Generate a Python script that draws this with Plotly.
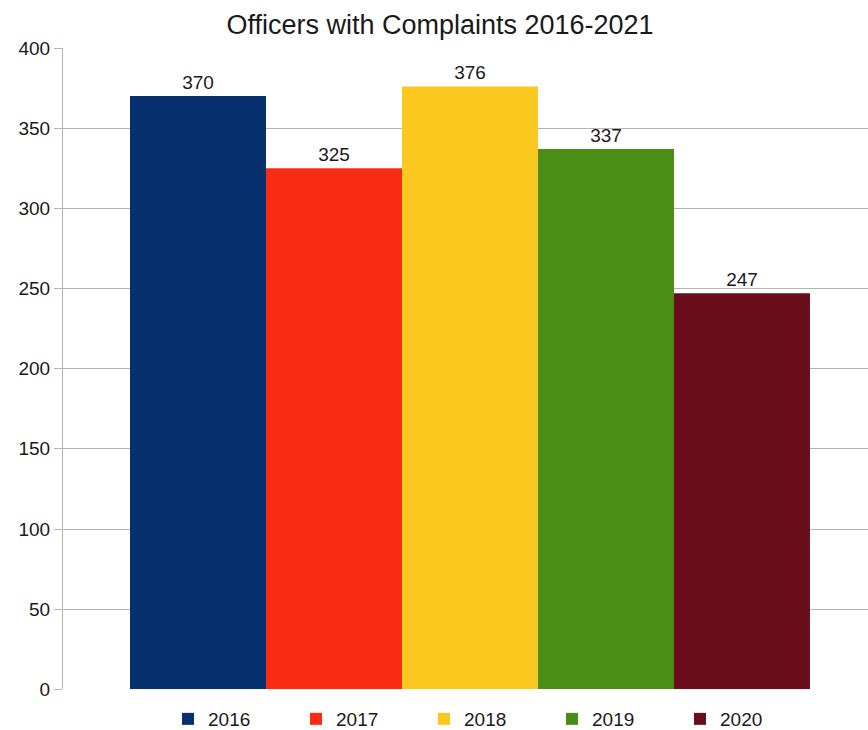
import plotly.graph_objects as go

years = ["2016", "2017", "2018", "2019", "2020"]
values = [370, 325, 376, 337, 247]
colors = ["#06316e", "#f92c13", "#fbc820", "#4a8e18", "#690e1a"]
y_ticks = [0, 50, 100, 150, 200, 250, 300, 350, 400]

FONT = "Liberation Sans, Arial, sans-serif"

fig = go.Figure()
for i, (yr, v, c) in enumerate(zip(years, values, colors)):
    fig.add_trace(go.Bar(
        x=[i], y=[v], name=yr, width=1,
        marker=dict(color=c, line=dict(width=0)),
        text=[str(v)], textposition="outside",
        textfont=dict(family=FONT, size=19, color="#1a1a1a"),
        cliponaxis=False, hoverinfo="skip",
    ))

fig.update_layout(
    width=868, height=730,
    margin=dict(l=63, r=0, t=48, b=36),
    paper_bgcolor="white", plot_bgcolor="white",
    barmode="overlay",
    showlegend=True,
    title=dict(text="Officers with Complaints 2016-2021",
               font=dict(family=FONT, size=27, color="#1a1a1a"),
               x=440/868, xanchor="center", y=1-25/730, yanchor="middle",
               xref="container", yref="container"),
    legend=dict(orientation="h", xref="container", yref="container",
                x=488/868, xanchor="center", y=1-719/730, yanchor="middle",
                font=dict(family=FONT, size=19, color="#1a1a1a"),
                entrywidth=83, entrywidthmode="pixels",
                itemclick=False, itemdoubleclick=False, bgcolor="rgba(0,0,0,0)"),
    font=dict(family=FONT),
)
fig.update_xaxes(range=[-0.9926, 4.9265], showticklabels=False, showgrid=False,
                 zeroline=False, showline=False, ticks="", fixedrange=True)
fig.update_yaxes(range=[0, 400], tickvals=y_ticks, ticktext=[str(t) for t in y_ticks],
                 showgrid=True, gridcolor="#b3b3b3", gridwidth=1,
                 zeroline=False, showline=True, linecolor="#b3b3b3", linewidth=1,
                 ticks="outside", ticklen=8, tickcolor="#b3b3b3",
                 tickfont=dict(family=FONT, size=19, color="#1a1a1a"), fixedrange=True)

fig.write_html("out.html")
